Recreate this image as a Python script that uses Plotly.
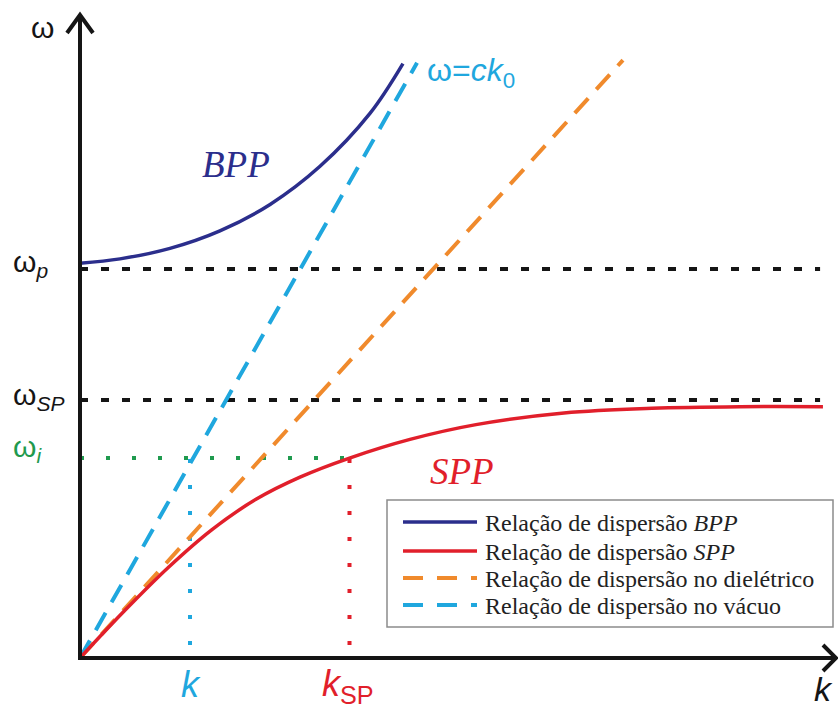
import plotly.graph_objects as go

# Dispersion relations (k in units with c = 1, frequency normalised to ω_p)
K_BPP = [0.0, 0.182, 0.409, 0.636, 0.864, 1.091, 1.318, 1.468]
W_BPP = [1.015, 1.026, 1.053, 1.098, 1.166, 1.264, 1.400, 1.528]

K_SPP = [0.0, 0.2, 0.4, 0.6, 0.8, 1.0, 1.225, 1.5, 1.8, 2.2, 2.6, 3.0, 3.377]
W_SPP = [0.0, 0.120, 0.232, 0.330, 0.408, 0.465, 0.514, 0.562, 0.600, 0.630,
         0.642, 0.646, 0.646]

# Light lines: vacuum (ω = c k0) and dielectric
K_VAC = [0.0, 1.532]
W_VAC = [0.0, 1.530]
K_DIEL = [0.0, 2.468]
W_DIEL = [0.0, 1.537]

# Characteristic frequencies and wavevectors
W_P = 1.0
W_SP = 0.663
W_I = 0.514
K_LUZ = 0.50
K_SP = 1.225
K_MAX = 3.364

LEGEND_LABELS = [
    "Relação de dispersão <i>BPP</i>",
    "Relação de dispersão <i>SPP</i>",
    "Relação de dispersão no dielétrico",
    "Relação de dispersão no vácuo",
]

C_BPP = "#2b2e8c"
C_SPP = "#e11f2b"
C_DIEL = "#f08a2c"
C_VAC = "#1fa7de"
C_I = "#1f9a4e"
C_AX = "#151515"

W, H = 838, 712
# pixel scale of the drawing: origin position and pixels per unit
X0, Y0, SX, SY = 80.0, 658.0, 220.0, 389.0


def px(x, y):
    """Convert a canvas pixel position into axis units."""
    return (x - X0) / SX, (Y0 - y) / SY


fig = go.Figure()

# reference frequency levels
for lvl in (W_P, W_SP):
    fig.add_trace(go.Scatter(x=[0, K_MAX], y=[lvl, lvl], mode="lines",
                             line=dict(color=C_AX, width=4, dash="8px,13px"),
                             hoverinfo="skip"))

# ω_i guide lines
fig.add_trace(go.Scatter(x=[0, K_SP], y=[W_I, W_I], mode="lines",
                         line=dict(color=C_I, width=4, dash="4px,22px"),
                         hoverinfo="skip"))
fig.add_trace(go.Scatter(x=[K_LUZ, K_LUZ], y=[0, W_I], mode="lines",
                         line=dict(color=C_VAC, width=4, dash="0px,13px,4px,9px"),
                         hoverinfo="skip"))
fig.add_trace(go.Scatter(x=[K_SP, K_SP], y=[0, W_I], mode="lines",
                         line=dict(color=C_SPP, width=4, dash="0px,13px,4px,9px"),
                         hoverinfo="skip"))

# light lines
fig.add_trace(go.Scatter(x=K_DIEL, y=W_DIEL, mode="lines", name=LEGEND_LABELS[2],
                         line=dict(color=C_DIEL, width=4, dash="20px,12px")))
fig.add_trace(go.Scatter(x=K_VAC, y=W_VAC, mode="lines", name=LEGEND_LABELS[3],
                         line=dict(color=C_VAC, width=4, dash="20px,12px")))

# plasmon branches
fig.add_trace(go.Scatter(x=K_BPP, y=W_BPP, mode="lines", name=LEGEND_LABELS[0],
                         line=dict(color=C_BPP, width=3.5, shape="spline",
                                   smoothing=1.0)))
fig.add_trace(go.Scatter(x=K_SPP, y=W_SPP, mode="lines", name=LEGEND_LABELS[1],
                         line=dict(color=C_SPP, width=3.5, shape="spline",
                                   smoothing=1.0)))

shapes = []


def path(points, color, width, dash="solid"):
    pts = [px(*p) for p in points]
    d = "M" + " L".join(f"{a:.5f},{b:.5f}" for a, b in pts)
    shapes.append(dict(type="path", path=d, xref="x", yref="y",
                       line=dict(color=color, width=width, dash=dash),
                       layer="above"))


# axes with open arrowheads
path([(80, 660), (80, 16)], C_AX, 4)
path([(67, 33), (80, 15), (93, 33)], C_AX, 4)
path([(78, 658), (834, 658)], C_AX, 4)
path([(823, 645), (836, 658), (823, 671)], C_AX, 4)

# legend box
bx0, by0 = px(387, 500)
bx1, by1 = px(833, 627)
shapes.append(dict(type="rect", xref="x", yref="y", x0=bx0, y0=by0, x1=bx1, y1=by1,
                   line=dict(color="#8c8c8c", width=1.5), fillcolor="white",
                   layer="above"))
rows = [522, 551, 578, 605]
styles = [(C_BPP, 3.5, "solid"), (C_SPP, 3.5, "solid"),
          (C_DIEL, 4, "20px,14px"), (C_VAC, 4, "20px,14px")]
for ry, (col, lw, ds) in zip(rows, styles):
    path([(403, ry), (477, ry)], col, lw, ds)

annotations = []


def label(x, y, text, color, size, family="Liberation Sans", xanchor="center",
          yanchor="middle"):
    ax, ay = px(x, y)
    annotations.append(dict(x=ax, y=ay, xref="x", yref="y", text=text,
                            showarrow=False, xanchor=xanchor, yanchor=yanchor,
                            font=dict(color=color, size=size, family=family)))


for ry, txt in zip(rows, LEGEND_LABELS):
    label(483, ry + 1, txt, "#222222", 24, family="Liberation Serif", xanchor="left")

label(42, 27, "ω", C_AX, 30)
label(11, 263, "ω<sub><i>p</i></sub>", C_AX, 30, xanchor="left")
label(11, 396, "ω<sub><i>SP</i></sub>", C_AX, 30, xanchor="left")
label(11, 448, "ω<sub><i>i</i></sub>", C_I, 30, xanchor="left")
label(425, 72, "ω=<i>ck</i><sub>0</sub>", C_VAC, 32, xanchor="left")
label(236, 164, "<i>BPP</i>", C_BPP, 37, family="Liberation Serif")
label(462, 471, "<i>SPP</i>", C_SPP, 37, family="Liberation Serif")
label(191, 684, "<i>k</i>", C_VAC, 36)
label(320, 686, "<i>k</i><sub>SP</sub>", C_SPP, 36, xanchor="left")
label(823, 689, "<i>k</i>", C_AX, 34)

xr = [px(0, 0)[0], px(W, 0)[0]]
yr = [px(0, H)[1], px(0, 0)[1]]

fig.update_layout(
    width=W, height=H, autosize=False,
    margin=dict(l=0, r=0, t=0, b=0),
    paper_bgcolor="white", plot_bgcolor="white",
    showlegend=False,
    xaxis=dict(range=xr, visible=False, fixedrange=True),
    yaxis=dict(range=yr, visible=False, fixedrange=True),
    shapes=shapes,
    annotations=annotations,
)

fig.write_html("out.html")
